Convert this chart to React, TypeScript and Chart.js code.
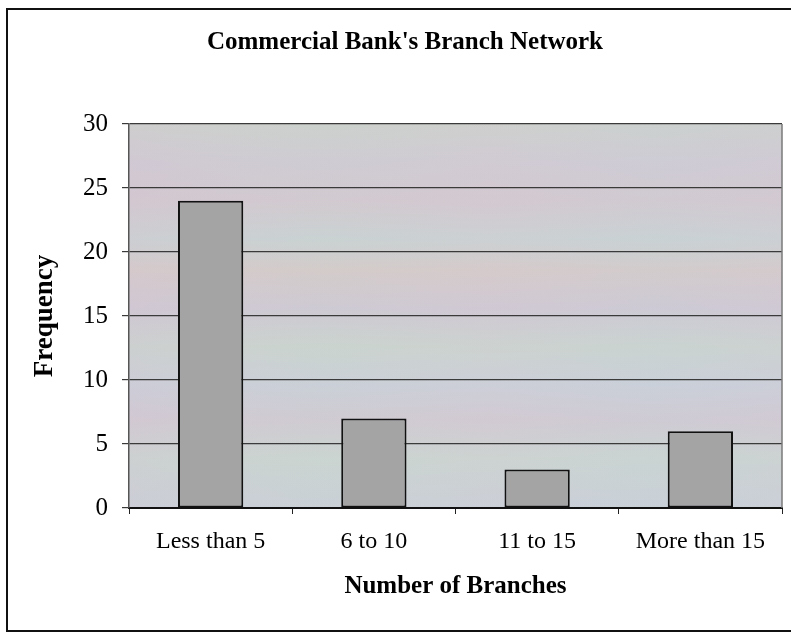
import React, { useEffect, useRef } from "react";
import { Chart, registerables } from "chart.js";

Chart.register(...registerables);

const categories = ["Less than 5", "6 to 10", "11 to 15", "More than 15"];
const frequencies = [24, 7, 3, 6];
const yTicks = [0, 5, 10, 15, 20, 25, 30];
const chartTitle = "Commercial Bank's Branch Network";
const xTitle = "Number of Branches";
const yTitle = "Frequency";

const FONT = "'Liberation Serif', 'Times New Roman', serif";

const decorPlugin = {
  id: "decor",
  beforeDraw(chart: any) {
    const { ctx, chartArea: a } = chart;
    ctx.save();
    // plot area background (pastel iridescent look)
    const v = ctx.createLinearGradient(0, a.top, 0, a.bottom);
    v.addColorStop(0.0, "#ccd0cc");
    v.addColorStop(0.1, "#cfcad3");
    v.addColorStop(0.2, "#d2c8cf");
    v.addColorStop(0.3, "#c9d1d2");
    v.addColorStop(0.38, "#d4cac9");
    v.addColorStop(0.48, "#cec8d3");
    v.addColorStop(0.58, "#cad3ce");
    v.addColorStop(0.68, "#cacfd8");
    v.addColorStop(0.77, "#d0c9d2");
    v.addColorStop(0.87, "#cad4d0");
    v.addColorStop(1.0, "#c9cfd7");
    ctx.fillStyle = v;
    ctx.fillRect(a.left, a.top, a.right - a.left, a.bottom - a.top);
    const h = ctx.createLinearGradient(a.left, 0, a.right, 0);
    h.addColorStop(0.0, "rgba(215,195,212,0.2)");
    h.addColorStop(0.3, "rgba(205,215,210,0.12)");
    h.addColorStop(0.55, "rgba(220,205,215,0.15)");
    h.addColorStop(0.8, "rgba(200,212,222,0.15)");
    h.addColorStop(1.0, "rgba(212,204,218,0.2)");
    ctx.fillStyle = h;
    ctx.fillRect(a.left, a.top, a.right - a.left, a.bottom - a.top);
    ctx.restore();
  },
  afterDraw(chart: any) {
    const { ctx, chartArea: a } = chart;
    ctx.save();
    // plot area right border
    ctx.strokeStyle = "#7a7a7a";
    ctx.lineWidth = 1.5;
    ctx.beginPath();
    ctx.moveTo(a.right, a.top);
    ctx.lineTo(a.right, a.bottom);
    ctx.stroke();
    // outer chart frame
    ctx.strokeStyle = "#111";
    ctx.lineWidth = 2;
    ctx.strokeRect(7, 9, 800, 622);
    ctx.restore();
  },
};

export default function App() {
  const ref = useRef<HTMLCanvasElement>(null);

  useEffect(() => {
    if (!ref.current) return;
    const chart = new Chart(ref.current, {
      type: "bar",
      data: {
        labels: categories,
        datasets: [
          {
            label: yTitle,
            data: frequencies,
            backgroundColor: "#a4a4a4",
            borderColor: "#111111",
            borderWidth: 2,
            borderSkipped: false,
            barPercentage: 0.4,
            categoryPercentage: 1,
          },
        ],
      },
      options: {
        responsive: false,
        animation: false,
        layout: { padding: { left: 28, right: 9, top: 0, bottom: 0 } },
        plugins: {
          legend: { display: false },
          tooltip: { enabled: false },
          title: {
            display: true,
            text: chartTitle,
            color: "#000",
            font: { family: FONT, size: 25, weight: "bold" },
            padding: { top: 28, bottom: 66 },
          },
        },
        scales: {
          x: {
            grid: {
              display: true,
              drawOnChartArea: false,
              drawTicks: true,
              tickLength: 6,
              color: "#222",
              offset: true,
            },
            border: { display: true, color: "#111", width: 2 },
            ticks: {
              color: "#000",
              font: { family: FONT, size: 24 },
              padding: 13,
              maxRotation: 0,
            },
            title: {
              display: true,
              text: xTitle,
              color: "#000",
              font: { family: FONT, size: 25, weight: "bold" },
              padding: { top: 0, bottom: 32 },
            },
            afterFit(scale: any) {
              scale.height = 126;
            },
          },
          y: {
            min: 0,
            max: 30,
            afterBuildTicks(scale: any) {
              scale.ticks = yTicks.map((v) => ({ value: v }));
            },
            grid: {
              color: "#3a3a3a",
              lineWidth: 1.2,
              tickLength: 7,
              drawTicks: true,
            },
            border: { display: true, color: "#555", width: 1.5 },
            ticks: {
              color: "#000",
              font: { family: FONT, size: 25 },
              padding: 14,
            },
            title: {
              display: true,
              text: yTitle,
              color: "#000",
              font: { family: FONT, size: 27, weight: "bold" },
              padding: { top: 1, bottom: 0 },
            },
            afterFit(scale: any) {
              scale.width = 101;
            },
          },
        },
      },
      plugins: [decorPlugin],
    });
    return () => chart.destroy();
  }, []);

  return (
    <div style={{ position: "absolute", left: 0, top: 0, width: 791, height: 634, background: "#fff" }}>
      <canvas ref={ref} width={791} height={634} style={{ display: "block", width: 791, height: 634 }} />
    </div>
  );
}
